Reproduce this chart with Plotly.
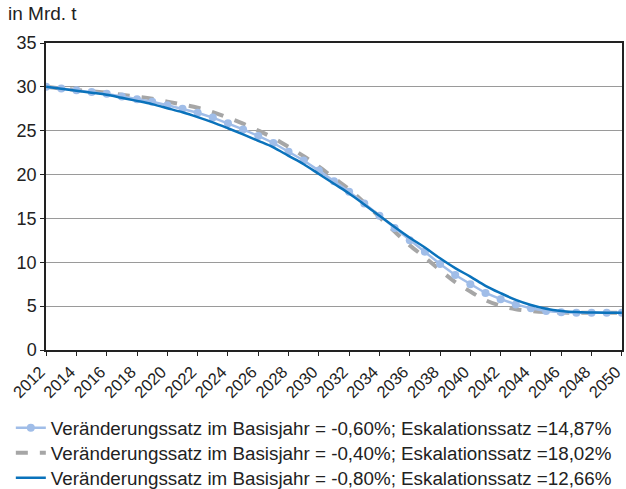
import plotly.graph_objects as go

years = list(range(2012, 2051))

series_a_name = "Veränderungssatz im Basisjahr = -0,60%; Eskalationssatz =14,87%"
series_a = [30.0, 29.8, 29.6, 29.4, 29.2, 28.9, 28.6, 28.3, 27.9, 27.5,
            27.05, 26.5, 25.85, 25.15, 24.4, 23.6, 22.6, 21.6, 20.45, 19.25,
            18.05, 16.7, 15.3, 13.9, 12.5, 11.2, 9.8, 8.55, 7.5, 6.5,
            5.8, 5.2, 4.75, 4.45, 4.3, 4.25, 4.25, 4.25, 4.25]

series_b_name = "Veränderungssatz im Basisjahr = -0,40%; Eskalationssatz =18,02%"
series_b = [30.0, 29.82, 29.65, 29.5, 29.35, 29.1, 28.9, 28.65, 28.32, 27.98,
            27.62, 27.12, 26.5, 25.8, 25.02, 24.17, 23.15, 22.1, 20.9, 19.6,
            18.32, 16.8, 15.15, 13.5, 11.93, 10.55, 9.1, 7.75, 6.66, 5.68,
            5.04, 4.65, 4.45, 4.33, 4.27, 4.25, 4.25, 4.25, 4.25]

series_c_name = "Veränderungssatz im Basisjahr = -0,80%; Eskalationssatz =12,66%"
series_c = [30.0, 29.78, 29.55, 29.33, 29.1, 28.75, 28.4, 28.03, 27.57, 27.1,
            26.55, 25.95, 25.28, 24.58, 23.85, 23.1, 22.13, 21.18, 20.07, 18.95,
            17.85, 16.6, 15.3, 14.02, 12.8, 11.68, 10.45, 9.33, 8.37, 7.32,
            6.48, 5.72, 5.13, 4.7, 4.45, 4.32, 4.28, 4.25, 4.25]

x_ticks = list(range(2012, 2051, 2))
y_ticks = [0, 5, 10, 15, 20, 25, 30, 35]

FONT = "Liberation Sans, Arial, sans-serif"

fig = go.Figure()
fig.add_trace(go.Scatter(x=years, y=series_b, name=series_b_name, mode="lines",
                         line=dict(color="#a6a6a6", width=4, dash="dash", shape="spline"),
                         legend="legend2"))
fig.add_trace(go.Scatter(x=years, y=series_a, name=series_a_name, mode="lines+markers",
                         line=dict(color="#a0bde8", width=2.5),
                         marker=dict(color="#a0bde8", size=8),
                         legend="legend"))
fig.add_trace(go.Scatter(x=years, y=series_c, name=series_c_name, mode="lines",
                         line=dict(color="#0a72bb", width=2.5, shape="spline"),
                         legend="legend3"))

legend_common = dict(orientation="v", xref="container", yref="container",
                     x=0.0173, xanchor="left", yanchor="middle",
                     font=dict(size=18.8, color="#222222"),
                     itemwidth=30, bgcolor="rgba(0,0,0,0)")

fig.update_layout(
    width=626, height=489,
    margin=dict(l=46, r=4, t=43, b=139, autoexpand=False),
    paper_bgcolor="white", plot_bgcolor="white",
    font=dict(family=FONT, size=17, color="#222222"),
    showlegend=True,
    legend=dict(legend_common, y=0.1247),
    legend2=dict(legend_common, y=0.0736),
    legend3=dict(legend_common, y=0.0225),
    annotations=[dict(text="in Mrd. t", xref="paper", yref="paper", x=-0.0694, y=1.0945,
                      xanchor="left", yanchor="middle", showarrow=False,
                      font=dict(size=19, color="#222222"))],
)
fig.update_xaxes(range=[2011.99, 2050.01], tickvals=x_ticks, ticktext=[str(t) for t in x_ticks],
                 tickangle=-45, ticks="outside", ticklen=4, tickcolor="#222",
                 showline=True, linecolor="#222", linewidth=1.5, mirror=True,
                 showgrid=False, zeroline=False, tickfont=dict(size=16.5), automargin=False,
                 ticklabeloverflow="allow", ticklabelshift=-6)
fig.update_yaxes(range=[0, 35], tickvals=y_ticks, ticks="outside", ticklen=4, tickcolor="#222",
                 showline=True, linecolor="#222", linewidth=1.5, mirror=True,
                 showgrid=True, gridcolor="#9a9a9a", gridwidth=1, zeroline=False,
                 tickfont=dict(size=18), automargin=False)

fig.write_html("out.html", config={"displayModeBar": False},
               post_script="document.body.style.margin='0';")
